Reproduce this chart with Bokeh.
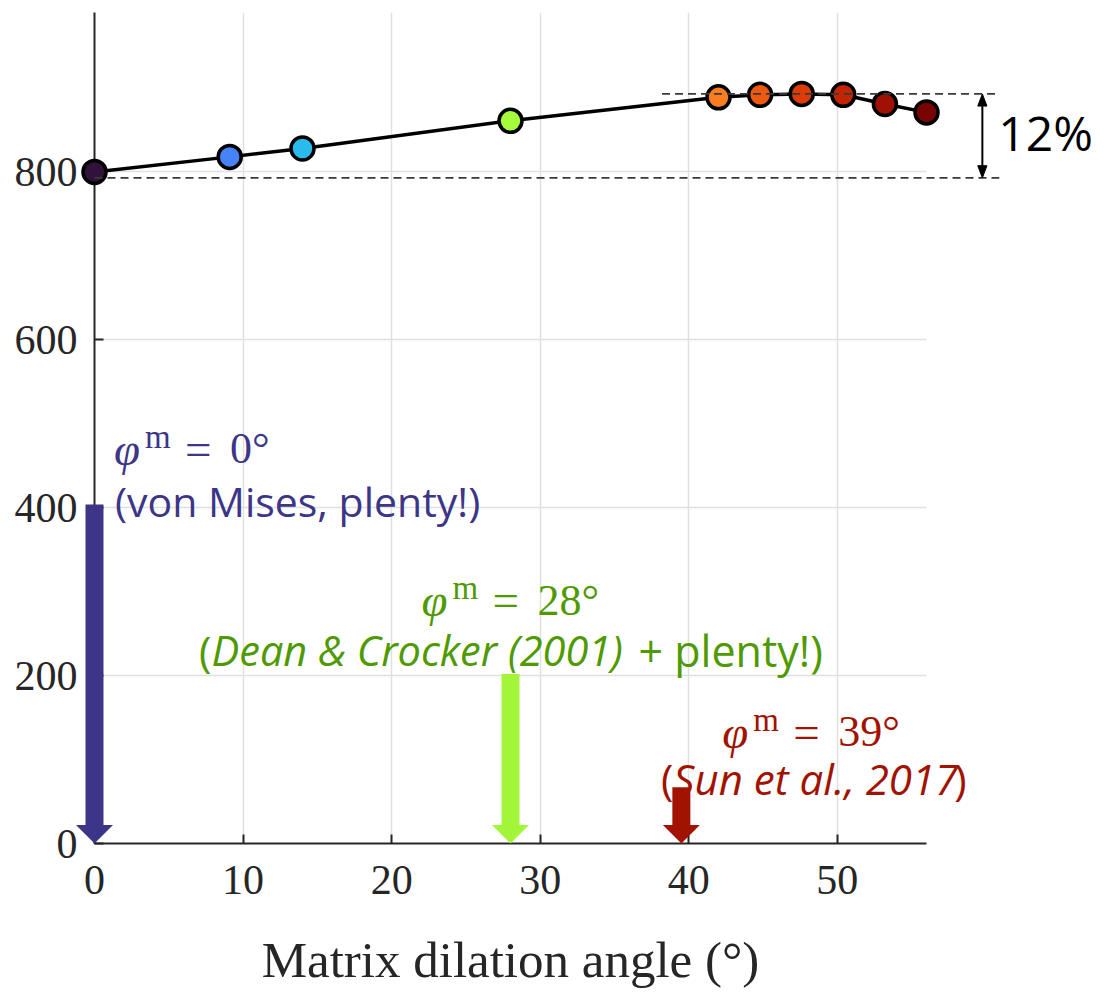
from bokeh.plotting import figure
from bokeh.models import Range1d, FixedTicker, ColumnDataSource
from bokeh.core.properties import value
from bokeh.transform import linear_cmap
from bokeh.palettes import Turbo256
from bokeh.embed import file_html
from bokeh.resources import INLINE

# ---------------- data ----------------
dilation_angle = [0, 9.1, 14, 28, 42, 44.8, 47.6, 50.4, 53.2, 56]
strength = [800, 818, 828, 861, 889, 892, 893, 892, 881, 871]

ref_low = 793
ref_high = 893
ref_change_label = "12%"

lit_angle = [0, 28, 39.5]
lit_count = [404, 202, 67]
lit_angle_text = ["0°", "28°", "39°"]

x_ticks = [0, 10, 20, 30, 40, 50]
y_ticks = [0, 200, 400, 600, 800]
x_label = "Matrix dilation angle (°)"

# ---------------- layout / style ----------------
X_MAX = 56
Y_MAX = 990
SERIF_NAME = "Liberation Serif"
SERIF = value(SERIF_NAME)
SANS = value("Open Sans")
AXIS_COLOR = "#262626"
arrow_colors = ["#3d3587", "#a3f53a", "#a11300"]
text_colors = ["#3d3587", "#4e9a00", "#a11300"]
HEAD_HALF_W = 1.245   # x data units (~18.5 px)
HEAD_LEN = 22         # y data units (~18.5 px)
SMALL_HALF_W = 0.31   # x data units (~4.6 px)
SMALL_LEN = 14.5      # y data units (~12 px)

# label placement (baselines, data units) and pixel offsets relative to arrow
line1_y = [470, 290, 133]
line2_y = [408, 230, 77]
line1_start = [20.5, -88, 42]

p = figure(frame_width=832, frame_height=831, output_backend="svg",
           toolbar_location=None, x_range=Range1d(0, X_MAX), y_range=Range1d(0, Y_MAX),
           min_border_left=94, min_border_top=12, min_border_right=174, min_border_bottom=0)
p.outline_line_color = None
p.background_fill_color = "white"
p.border_fill_color = "white"

for ax in (p.xaxis[0], p.yaxis[0]):
    ax.axis_line_color = AXIS_COLOR
    ax.axis_line_width = 2
    ax.major_tick_line_color = AXIS_COLOR
    ax.major_tick_line_width = 2
    ax.major_tick_in = 9
    ax.major_tick_out = 0
    ax.minor_tick_line_color = None
    ax.major_label_text_font = SERIF_NAME
    ax.major_label_text_font_size = "42px"
    ax.major_label_text_color = AXIS_COLOR

p.xaxis.ticker = FixedTicker(ticks=x_ticks)
p.yaxis.ticker = FixedTicker(ticks=y_ticks)
p.xaxis.major_label_standoff = 22
p.yaxis.major_label_standoff = 17
p.xaxis.axis_label = x_label
p.xaxis.axis_label_text_font = SERIF_NAME
p.xaxis.axis_label_text_font_size = "51px"
p.xaxis.axis_label_text_font_style = "normal"
p.xaxis.axis_label_text_color = AXIS_COLOR
p.xaxis.axis_label_standoff = 35

for g in (p.xgrid[0], p.ygrid[0]):
    g.grid_line_color = "#e0e0e0"
    g.grid_line_width = 1.5

# ---------------- literature arrows ----------------
p.segment(x0=lit_angle, y0=lit_count, x1=lit_angle, y1=[HEAD_LEN] * len(lit_angle),
          line_width=18, line_color=arrow_colors, line_cap="butt", level="overlay")
p.patches(xs=[[a - HEAD_HALF_W, a + HEAD_HALF_W, a] for a in lit_angle],
          ys=[[HEAD_LEN, HEAD_LEN, 0] for _ in lit_angle],
          fill_color=arrow_colors, line_color=None, level="overlay")

# ---------------- main series ----------------
src = ColumnDataSource(dict(x=dilation_angle, y=strength))
p.line("x", "y", source=src, line_color="black", line_width=3.5, level="overlay")
p.scatter("x", "y", source=src, size=23, line_color="black", line_width=3.5,
          fill_color=linear_cmap("x", Turbo256, 0, X_MAX), level="overlay")

# ---------------- reference dashed lines + 12% ----------------
dash_end = 60.9
p.segment(x0=[0, 38.2], y0=[ref_low, ref_high], x1=[dash_end, dash_end], y1=[ref_low, ref_high],
          line_color="#3a3a3a", line_width=1.8, line_dash="8 5", level="overlay")
arr_x = 59.76
p.segment(x0=[arr_x], y0=[ref_low + SMALL_LEN], x1=[arr_x], y1=[ref_high - SMALL_LEN],
          line_color="black", line_width=2, level="overlay")
for tip, base in ((ref_high, ref_high - SMALL_LEN), (ref_low, ref_low + SMALL_LEN)):
    p.patch(x=[arr_x - SMALL_HALF_W, arr_x + SMALL_HALF_W, arr_x], y=[base, base, tip],
            fill_color="black", line_color="black", line_width=1, level="overlay")
p.text(x=[arr_x], y=[(ref_low + ref_high) / 2], text=[ref_change_label], text_font=SANS,
       text_font_size="48px", text_color="black", text_align="left", text_baseline="middle",
       x_offset=16, y_offset=-3, level="overlay")


def txt(x, y, s, font, size, color, style="normal", align="left", dx=0, dy=0):
    p.text(x=[x], y=[y], text=[s], text_font=font, text_font_size=size, text_color=color,
           text_font_style=style, text_align=align, text_baseline="alphabetic",
           x_offset=dx, y_offset=dy, level="overlay")


# ---------------- labels ----------------
for i, a in enumerate(lit_angle):
    s = line1_start[i]
    c = text_colors[i]
    y1 = line1_y[i]
    txt(a, y1, "φ", SERIF, "47px", c, style="italic", dx=s - 1)
    txt(a, y1, "m", SERIF, "33px", c, dx=s + 30, dy=-12)
    txt(a, y1, "=", SERIF, "47px", c, dx=s + 70)
    txt(a, y1, lit_angle_text[i], SERIF, "44px", c, dx=s + 115)

c = text_colors
txt(lit_angle[0], line2_y[0], "(von Mises, plenty!)", SANS, "41px", c[0], dx=20.5)
txt(lit_angle[1], line2_y[1], "(", SANS, "42px", c[1], align="right", dx=-299)
txt(lit_angle[1], line2_y[1], "Dean & Crocker (2001)", SANS, "41.5px", c[1], style="italic", dx=-299)
txt(lit_angle[1], line2_y[1], " + plenty!)", SANS, "43px", c[1], dx=128)
txt(lit_angle[2], line2_y[2], "(", SANS, "42px", c[2], align="right", dx=-8)
txt(lit_angle[2], line2_y[2], "Sun et al., 2017", SANS, "42px", c[2], style="italic", dx=-8)
txt(lit_angle[2], line2_y[2], ")", SANS, "42px", c[2], dx=273)

open("out.html", "w").write(file_html(p, INLINE))
